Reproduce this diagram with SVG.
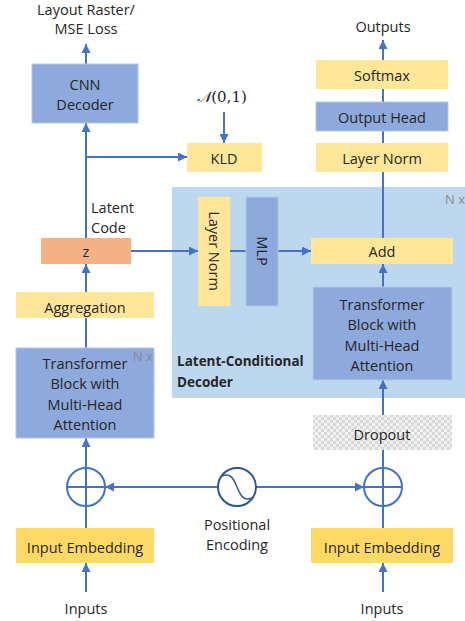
<svg xmlns="http://www.w3.org/2000/svg" width="465" height="621" viewBox="0 0 465 621">
<style>
text{font-family:"Open Sans","Liberation Sans",sans-serif;font-size:14.5px;fill:#262626;text-anchor:middle;dominant-baseline:central}
.y{fill:#FFE699}
.y2{fill:#FFD966}
.b{fill:#8EA9DB;stroke:#B4C7E7;stroke-width:1}
.ln{stroke:#4472C4;stroke-width:2;fill:none}
.nx{fill:#8C8C8C;font-size:13px}
.bold{font-weight:bold;text-anchor:start;font-size:13.5px}
</style>
<defs>
<marker id="ah" viewBox="0 0 10 10" refX="10" refY="5" markerWidth="9" markerHeight="9" orient="auto-start-reverse" markerUnits="userSpaceOnUse">
<path d="M0,0 L10,5 L0,10 z" fill="#4472C4"/>
</marker>
<pattern id="chk" width="6" height="6" patternUnits="userSpaceOnUse">
<rect width="6" height="6" fill="#F2F2F2"/>
<rect width="3" height="3" fill="#D9D9D9"/>
<rect x="3" y="3" width="3" height="3" fill="#D9D9D9"/>
</pattern>
</defs>

<g id="decoder-bg"><rect x="172" y="187" width="293" height="211" fill="#BDD7EE"/>
<text x="455" y="199" class="nx">N x</text>
<text x="177" y="361" class="bold">Latent-Conditional</text>
<text x="177" y="382" class="bold">Decoder</text></g>

<g id="connectors">
<path class="ln" d="M86 64 V44" marker-end="url(#ah)"/>
<path class="ln" d="M86 238 V123" marker-end="url(#ah)"/>
<path class="ln" d="M86 157 H187" marker-end="url(#ah)"/>
<path class="ln" d="M224 112 V143" marker-end="url(#ah)"/>
<path class="ln" d="M383 238 V40" marker-end="url(#ah)"/>
<path class="ln" d="M131 251 H198" marker-end="url(#ah)"/>
<path class="ln" d="M230 251 H246"/>
<path class="ln" d="M278 251 H311" marker-end="url(#ah)"/>
<path class="ln" d="M383 287 V264" marker-end="url(#ah)"/>
<path class="ln" d="M383 415 V380" marker-end="url(#ah)"/>
<path class="ln" d="M383 468 V450"/>
<path class="ln" d="M86 292 V264" marker-end="url(#ah)"/>
<path class="ln" d="M86 348 V318"/>
<path class="ln" d="M86 468 V438" marker-end="url(#ah)"/>
<path class="ln" d="M86 528 V506"/>
<path class="ln" d="M383 528 V506"/>
<path class="ln" d="M218 487 H105" marker-end="url(#ah)"/>
<path class="ln" d="M256 487 H364" marker-end="url(#ah)"/>
<path class="ln" d="M86 592 V563" marker-end="url(#ah)"/>
<path class="ln" d="M383 592 V563" marker-end="url(#ah)"/>
</g>

<g id="layout-raster"><text x="86" y="9">Layout Raster/</text><text x="86" y="28">MSE Loss</text></g>
<g id="cnn-decoder"><rect class="b" x="32" y="64" width="106" height="59"/><text x="85" y="84">CNN</text><text x="85" y="104">Decoder</text></g>
<g id="normal"><text x="222" y="97" style="font-family:'DejaVu Serif','Liberation Serif',serif;font-size:15px"><tspan font-style="italic">𝒩</tspan>(0,1)</text></g>
<g id="kld"><rect class="y" x="187" y="143" width="75" height="29"/><text x="224" y="158">KLD</text></g>
<g id="outputs"><text x="383" y="26">Outputs</text></g>
<g id="softmax"><rect class="y" x="316" y="60" width="132" height="29"/><text x="382" y="75">Softmax</text></g>
<g id="output-head"><rect class="b" x="316" y="102" width="132" height="29"/><text x="382" y="117">Output Head</text></g>
<g id="layer-norm-top"><rect class="y" x="316" y="143" width="132" height="29"/><text x="382" y="158">Layer Norm</text></g>
<g id="latent-code"><text x="91" y="207" style="text-anchor:start">Latent</text><text x="91" y="227" style="text-anchor:start">Code</text></g>
<g id="z"><rect x="41" y="238" width="90" height="26" fill="#F4B183"/><text x="86" y="251">z</text></g>
<g id="layer-norm-dec"><rect class="y" x="198" y="197" width="32" height="109"/><text x="214" y="251" transform="rotate(90 214 251)">Layer Norm</text></g>
<g id="mlp"><rect class="b" x="246" y="197" width="32" height="109"/><text x="262" y="251" transform="rotate(90 262 251)">MLP</text></g>
<g id="add"><rect class="y" x="311" y="238" width="142" height="26"/><text x="382" y="251">Add</text></g>
<g id="transformer-dec"><rect class="b" x="313" y="287" width="139" height="93"/>
<text x="382" y="304">Transformer</text><text x="382" y="324">Block with</text><text x="382" y="345">Multi-Head</text><text x="382" y="365">Attention</text></g>
<g id="dropout"><rect x="313" y="415" width="139" height="35" fill="url(#chk)"/><text x="382" y="434">Dropout</text></g>
<g id="aggregation"><rect class="y" x="16" y="292" width="138" height="26"/><text x="85" y="307">Aggregation</text></g>
<g id="transformer-enc"><rect class="b" x="16" y="348" width="138" height="90"/>
<text x="85" y="363">Transformer</text><text x="85" y="383">Block with</text><text x="85" y="404">Multi-Head</text><text x="85" y="424">Attention</text>
<text x="143" y="356" class="nx">N x</text></g>
<g id="plus-left"><circle class="ln" cx="86" cy="487" r="19"/><path class="ln" d="M67 487 H105 M86 468 V506" stroke-width="1.5"/></g>
<g id="plus-right"><circle class="ln" cx="383" cy="487" r="19"/><path class="ln" d="M364 487 H402 M383 468 V506" stroke-width="1.5"/></g>
<g id="pos-enc"><circle cx="237" cy="487" r="19" fill="none" stroke="#2F5597" stroke-width="2"/><path d="M222 476 C231 472 234 480 237 487 C240 494 243 502 252 498" stroke="#2F5597" stroke-width="1.5" fill="none"/>
<text x="237" y="524">Positional</text><text x="237" y="544">Encoding</text></g>
<g id="input-emb-left"><rect class="y2" x="16" y="528" width="138" height="35"/><text x="85" y="547">Input Embedding</text></g>
<g id="input-emb-right"><rect class="y2" x="311" y="528" width="142" height="35"/><text x="382" y="547">Input Embedding</text></g>
<g id="inputs-left"><text x="86" y="608">Inputs</text></g>
<g id="inputs-right"><text x="382" y="608">Inputs</text></g>
</svg>
